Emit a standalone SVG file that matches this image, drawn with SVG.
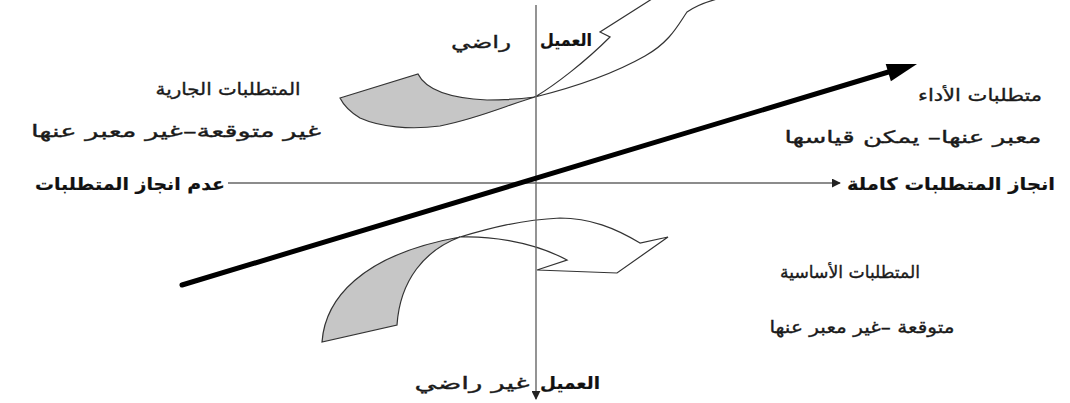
<svg xmlns="http://www.w3.org/2000/svg" width="1070" height="403" viewBox="0 0 1070 403">
<defs>
<style>
.t{font-family:"DejaVu Sans","Noto Sans",sans-serif;font-size:17px;fill:#1a1a1a;stroke:#1a1a1a;stroke-width:0.35;text-anchor:middle}
.b{font-weight:bold;fill:#111;stroke-width:0.2}
.axis{stroke:#666;stroke-width:1.4;fill:none}
.grey{fill:#c6c6c6;stroke:#333;stroke-width:1.2}
.white{fill:#fff;stroke:#333;stroke-width:1.2}
</style>
<marker id="ah" viewBox="0 0 10 10" refX="9" refY="5" markerWidth="9" markerHeight="9" markerUnits="userSpaceOnUse" orient="auto"><path d="M0,0 L10,5 L0,10 Z" fill="#222"/></marker>
</defs>
<rect width="1070" height="403" fill="#fff"/>
<g id="upper-ribbon">
<path class="grey" d="M340,98 L418,74 C425,88 445,98 487,100 C505,100 520,99 535,97 C510,104 480,118 440,126 C410,130 380,127 360,118 C350,112 343,104 340,98 Z"/>
<path class="white" d="M535,97 C555,85 585,62 610,37 L600,32 L655,-3 L725,-3 C712,0 697,5 687,12 C678,25 670,42 645,56 C615,73 575,87 535,97 Z"/>
</g>
<g id="lower-ribbon">
<path class="grey" d="M322,342 C325,300 360,255 460,237 C425,250 400,280 397,325 Z"/>
<path class="white" d="M460,237 C490,228 520,220 560,218 C590,218 615,228 640,243 L668,237 L617,273 L537,270 L567,260 C530,240 485,236 460,237 Z"/>
</g>
<g id="connectors">
<line class="axis" x1="536" y1="5" x2="536" y2="399" marker-end="url(#ah)"/>
<line class="axis" x1="228" y1="183" x2="840" y2="183" marker-end="url(#ah)"/>
<line x1="182" y1="285" x2="895" y2="70" stroke="#000" stroke-width="5" stroke-linecap="round"/>
<polygon points="917,64 885.7,64 890.9,81.2" fill="#000"/>
</g>
<g id="label-attractive">
<text class="t" x="228" y="95" textLength="145" lengthAdjust="spacingAndGlyphs">المتطلبات الجارية</text>
<text class="t" x="176" y="137" textLength="290" lengthAdjust="spacingAndGlyphs">غير متوقعة–غير معبر عنها</text>
</g>
<g id="label-not-fulfilled">
<text class="t b" x="130" y="190" textLength="190" lengthAdjust="spacingAndGlyphs">عدم انجاز المتطلبات</text>
</g>
<g id="label-performance">
<text class="t" x="980" y="101" textLength="124" lengthAdjust="spacingAndGlyphs">متطلبات الأداء</text>
<text class="t" x="913" y="143" textLength="257" lengthAdjust="spacingAndGlyphs">معبر عنها– يمكن قياسها</text>
</g>
<g id="label-fulfilled">
<text class="t b" x="951" y="190" textLength="208" lengthAdjust="spacingAndGlyphs">انجاز المتطلبات كاملة</text>
</g>
<g id="label-basic">
<text class="t" x="850" y="278" textLength="140" lengthAdjust="spacingAndGlyphs">المتطلبات الأساسية</text>
<text class="t" x="862" y="333" textLength="185" lengthAdjust="spacingAndGlyphs">متوقعة –غير معبر عنها</text>
</g>
<g id="label-satisfied">
<text class="t b" x="566" y="46" textLength="52" lengthAdjust="spacingAndGlyphs">العميل</text>
<text class="t" x="481" y="48" textLength="60" lengthAdjust="spacingAndGlyphs">راضي</text>
</g>
<g id="label-dissatisfied">
<text class="t b" x="570" y="389" textLength="60" lengthAdjust="spacingAndGlyphs">العميل</text>
<text class="t" x="472" y="389" textLength="115" lengthAdjust="spacingAndGlyphs">غير راضي</text>
</g>
</svg>
